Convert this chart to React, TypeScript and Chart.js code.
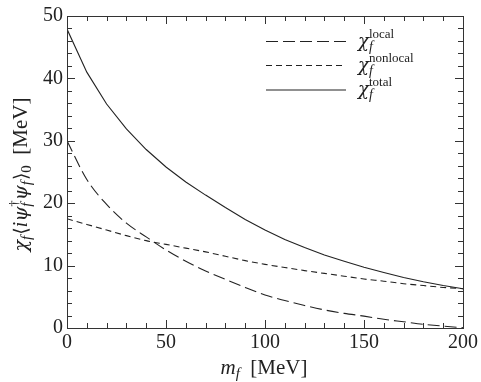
import { useEffect, useRef } from "react";
import { Chart, registerables } from "chart.js";

Chart.register(...registerables);

const massMeV = [0, 10, 20, 30, 40, 50, 60, 70, 80, 90, 100, 110, 120, 130, 140, 150, 160, 170, 180, 190, 200];
const chiLocal = [30.0, 23.8, 19.8, 16.8, 14.6, 12.5, 10.7, 9.15, 7.8, 6.5, 5.3, 4.4, 3.6, 2.9, 2.35, 1.9, 1.4, 1.0, 0.6, 0.3, 0.05];
const chiNonlocal = [17.5, 16.6, 15.7, 14.8, 14.0, 13.4, 12.8, 12.2, 11.5, 10.8, 10.2, 9.7, 9.2, 8.75, 8.3, 7.85, 7.5, 7.1, 6.8, 6.5, 6.3];
const chiTotal = [47.9, 41.0, 35.9, 31.9, 28.6, 25.8, 23.4, 21.3, 19.3, 17.4, 15.7, 14.2, 12.9, 11.7, 10.7, 9.75, 8.9, 8.1, 7.4, 6.8, 6.3];
const legendLabels = ["local", "nonlocal", "total"];
const xRange = [0, 200];
const yRange = [0, 50];

const SERIF = '"Liberation Serif", "DejaVu Serif", serif';
const GREEK = '"DejaVu Serif", "Liberation Serif", serif';
const INK = "#222";

type Seg = { t: string; it?: boolean; s?: number; dy?: number; keep?: boolean; g?: boolean; gap?: number };

function segFont(seg: Seg) {
  return `${seg.it ? "italic " : ""}${seg.s ?? 21}px ${seg.g ? GREEK : SERIF}`;
}

function measureRich(ctx: CanvasRenderingContext2D, segs: Seg[]) {
  let w = 0;
  let pending = 0;
  for (const seg of segs) {
    ctx.font = segFont(seg);
    const m = ctx.measureText(seg.t).width;
    if (seg.keep) pending = m;
    else {
      w += Math.max(m, pending) + (seg.gap ?? 0);
      pending = 0;
    }
  }
  return w;
}

function drawRich(ctx: CanvasRenderingContext2D, segs: Seg[], x: number, y: number) {
  let pending = 0;
  for (const seg of segs) {
    ctx.font = segFont(seg);
    const m = ctx.measureText(seg.t).width;
    ctx.fillText(seg.t, x, y + (seg.dy ?? 0));
    if (seg.keep) pending = m;
    else {
      x += Math.max(m, pending) + (seg.gap ?? 0);
      pending = 0;
    }
  }
}

const yTitle: Seg[] = [
  { t: "χ", it: true, g: true, s: 19 },
  { t: "f", it: true, s: 15, dy: 4, gap: 1 },
  { t: "⟨", g: true, s: 19 },
  { t: "i", it: true },
  { t: "ψ", it: true, g: true, s: 19 },
  { t: "†", s: 13, dy: -9, keep: true },
  { t: "f", it: true, s: 15, dy: 4 },
  { t: "ψ", it: true, g: true, s: 19 },
  { t: "f", it: true, s: 15, dy: 4, gap: 1 },
  { t: "⟩", g: true, s: 19 },
  { t: "0", s: 15, dy: 4 },
  { t: "  [MeV]" },
];

const xTitle: Seg[] = [
  { t: "m", it: true },
  { t: "f", it: true, s: 15, dy: 4 },
  { t: "  [MeV]" },
];

const framePlugin = {
  id: "frame",
  afterDraw(chart: any) {
    const ctx: CanvasRenderingContext2D = chart.ctx;
    const { left, right, top, bottom } = chart.chartArea;
    const xs = chart.scales.x;
    const ys = chart.scales.y;
    ctx.save();
    ctx.strokeStyle = "#333";
    ctx.lineWidth = 1;
    ctx.strokeRect(Math.round(left) + 0.5, Math.round(top) + 0.5, Math.round(right) - Math.round(left), Math.round(bottom) - Math.round(top));
    ctx.beginPath();
    for (let v = xRange[0]; v <= xRange[1]; v += 10) {
      const px = Math.round(xs.getPixelForValue(v)) + 0.5;
      const len = v % 50 === 0 ? 8 : 5;
      ctx.moveTo(px, bottom);
      ctx.lineTo(px, bottom - len);
      ctx.moveTo(px, top);
      ctx.lineTo(px, top + len);
    }
    for (let v = yRange[0]; v <= yRange[1]; v += 2) {
      const py = Math.round(ys.getPixelForValue(v)) + 0.5;
      const len = v % 10 === 0 ? 8 : 5;
      ctx.moveTo(left, py);
      ctx.lineTo(left + len, py);
      ctx.moveTo(right, py);
      ctx.lineTo(right - len, py);
    }
    ctx.stroke();

    // legend
    const rows = [41.5, 65.5, 90];
    const dashes = [[12, 5], [6, 4], []];
    ctx.fillStyle = INK;
    ctx.strokeStyle = INK;
    ctx.lineWidth = 1.1;
    rows.forEach((ry, i) => {
      ctx.setLineDash(dashes[i]);
      ctx.beginPath();
      ctx.moveTo(266, ry);
      ctx.lineTo(346, ry);
      ctx.stroke();
      ctx.setLineDash([]);
      ctx.textBaseline = "alphabetic";
      ctx.textAlign = "left";
      drawRich(ctx, [
        { t: "χ", it: true, g: true, s: 18 },
        { t: legendLabels[i], s: 13, dy: -9, keep: true },
        { t: "f", it: true, s: 14, dy: 4 },
      ], 358, ry + 5);
    });

    // axis titles
    ctx.textAlign = "left";
    ctx.textBaseline = "alphabetic";
    const xw = measureRich(ctx, xTitle);
    drawRich(ctx, xTitle, 264 - xw / 2, 374);
    const yw = measureRich(ctx, yTitle);
    ctx.translate(27, 174.5);
    ctx.rotate(-Math.PI / 2);
    drawRich(ctx, yTitle, -yw / 2, 0);
    ctx.restore();
  },
};

export default function App() {
  const ref = useRef<HTMLCanvasElement>(null);
  useEffect(() => {
    if (!ref.current) return;
    const mk = (ys: number[]) => massMeV.map((x, i) => ({ x, y: ys[i] }));
    const chart = new Chart(ref.current, {
      type: "line",
      data: {
        datasets: [
          { label: "local", data: mk(chiLocal), borderColor: INK, borderWidth: 1.1, borderDash: [12, 5], pointRadius: 0, fill: false, cubicInterpolationMode: "monotone" },
          { label: "nonlocal", data: mk(chiNonlocal), borderColor: INK, borderWidth: 1.1, borderDash: [6, 4], pointRadius: 0, fill: false, cubicInterpolationMode: "monotone" },
          { label: "total", data: mk(chiTotal), borderColor: INK, borderWidth: 1.1, pointRadius: 0, fill: false },
        ],
      },
      options: {
        responsive: false,
        animation: false,
        layout: { padding: { top: 9, right: 15, left: 0, bottom: 0 } },
        plugins: { legend: { display: false }, tooltip: { enabled: false } },
        scales: {
          x: {
            type: "linear",
            min: xRange[0],
            max: xRange[1],
            grid: { display: false, drawTicks: false },
            border: { display: false },
            ticks: { stepSize: 50, color: INK, padding: 3, font: { family: SERIF, size: 20 } },
            afterFit: (s: any) => { s.height = 54; },
          },
          y: {
            min: yRange[0],
            max: yRange[1],
            grid: { display: false, drawTicks: false },
            border: { display: false },
            ticks: { stepSize: 10, color: INK, padding: 4, font: { family: SERIF, size: 20 } },
            afterFit: (s: any) => { s.width = 67; },
          },
        },
      },
      plugins: [framePlugin],
    });
    return () => chart.destroy();
  }, []);
  return (
    <canvas
      ref={ref}
      width={481}
      height={382}
      style={{ position: "fixed", left: 0, top: 0, width: 481, height: 382, background: "#fff" }}
    />
  );
}
